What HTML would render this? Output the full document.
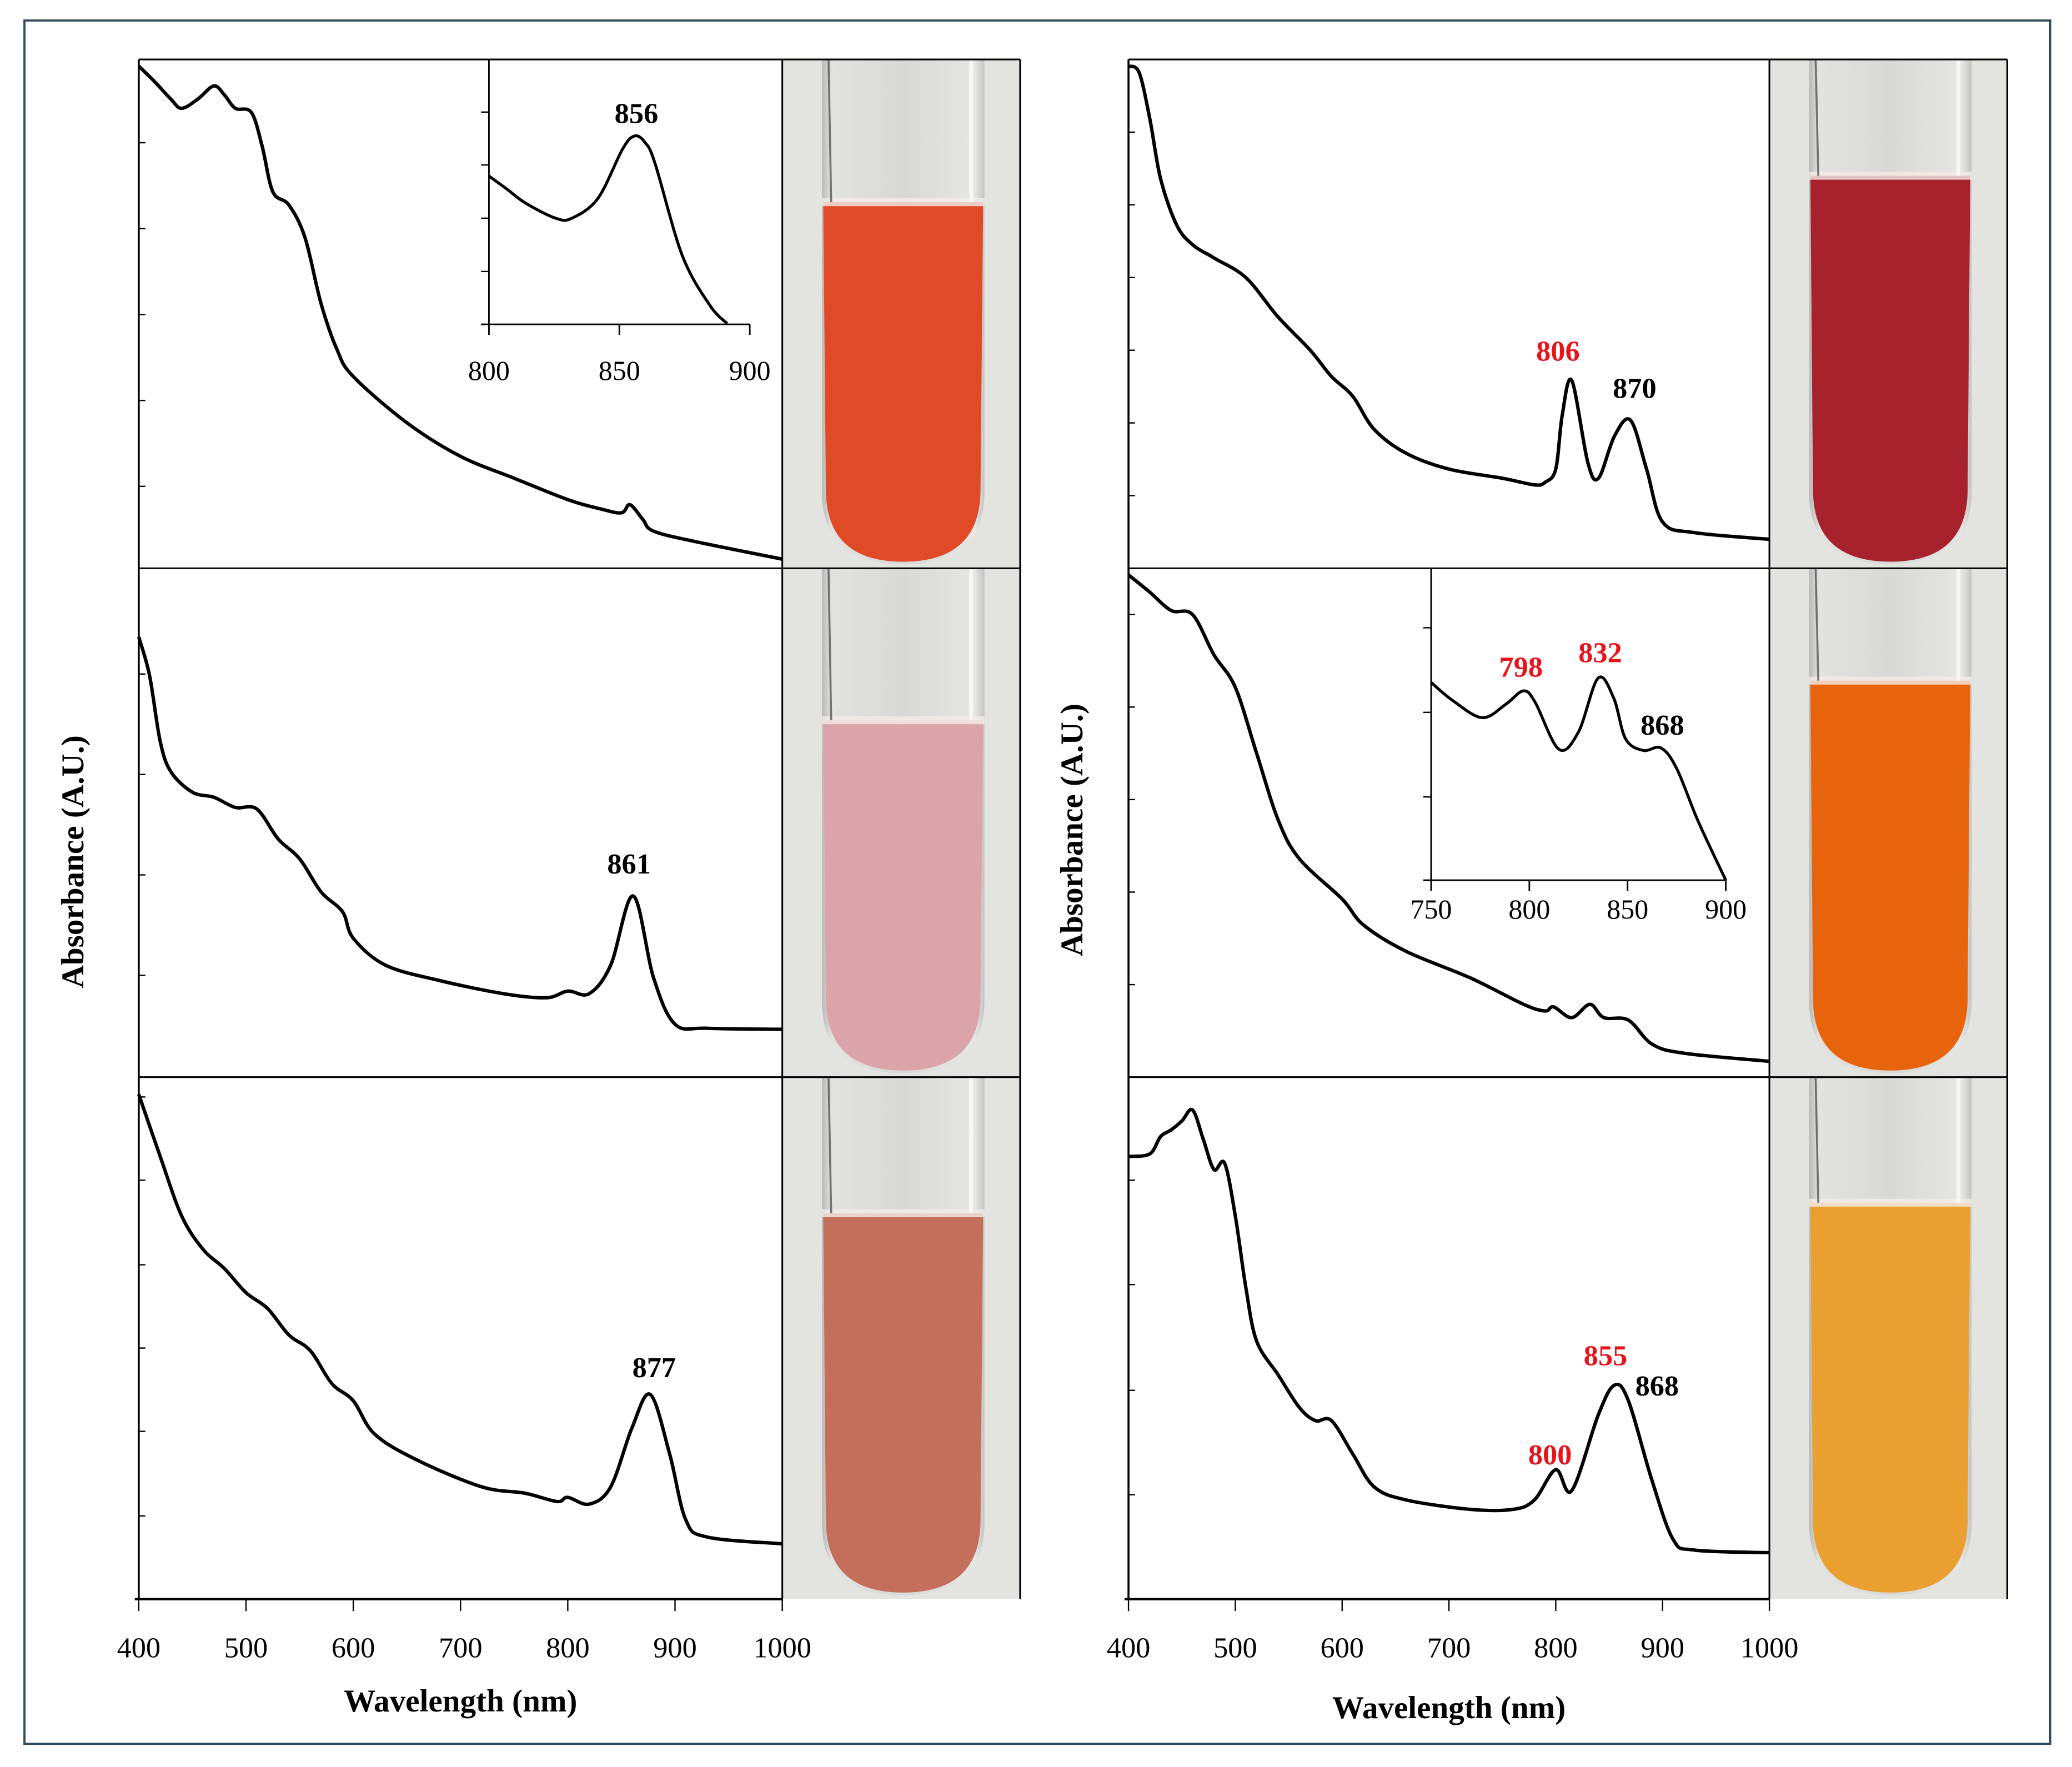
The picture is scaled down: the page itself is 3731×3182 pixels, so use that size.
<!DOCTYPE html>
<html><head><meta charset="utf-8"><style>
html,body{margin:0;padding:0;background:#fff}
svg{display:block}
text{font-family:"Liberation Serif",serif}
</style></head><body>
<svg id="fig" width="3731" height="3182" viewBox="0 0 1568 1337" preserveAspectRatio="none" xmlns="http://www.w3.org/2000/svg">
<defs>
<linearGradient id="glass" x1="0" x2="1" y1="0" y2="0">
<stop offset="0" stop-color="#b8b8b6"/><stop offset="0.06" stop-color="#e2e2e0"/><stop offset="0.5" stop-color="#d8d8d6"/><stop offset="0.94" stop-color="#e6e6e4"/><stop offset="1" stop-color="#c4c4c2"/>
</linearGradient>
</defs>
<rect x="0" y="0" width="1568" height="1337" fill="#fff"/>
<rect x="18.5" y="15.5" width="1533" height="1304" fill="none" stroke="#2e4a5a" stroke-width="1.6"/>
<g id="root"></g>
</svg>
<script>
// ---- data ----
const wl1=[400,415,430,440,455,470,480,490,505,515,525,540,555,570,585,600,650,700,750,800,830,850,858,870,880,920,1000];
const ab1=[98.7,95.6,92.2,90.4,92.2,94.8,93,90.4,89.6,83,74,71.4,65,52,42.9,37.7,28.6,22,17.7,13.5,11.7,10.9,12.5,9.6,7.3,5.2,1.8];
const wl2=[400,410,420,430,450,470,490,510,530,550,570,590,600,630,680,740,780,800,820,840,861,880,900,930,1000];
const ab2=[86.5,79,66,60,56,55,53,52.7,46.8,42.9,36.4,32.5,27.3,22,19,16.4,15.6,16.9,16.4,22,35.6,19.5,10.4,9.6,9.4];
const wl3=[400,420,440,460,480,500,520,540,560,580,600,620,660,720,760,790,800,820,840,860,877,895,910,930,1000];
const ab3=[96.7,84.8,73.4,67,63.3,58.7,55.7,50.6,47.6,41.3,38,31.6,26.6,21.5,20.3,18.7,19.5,18.2,21.5,32.9,39.2,27.8,15.2,11.9,10.6];
const wl4=[400,410,420,430,445,460,480,510,540,570,590,610,630,660,700,750,780,790,800,806,815,830,840,855,870,885,900,930,1000];
const ab4=[98.7,97.4,88.3,76.6,67.5,63.6,61,57.1,49.4,42.9,37.7,33.8,27.3,22.6,19.5,17.7,16.4,16.9,19.5,30,36.9,20.8,17.7,26,29.1,19.5,9.1,7,5.7];
const wl5=[400,420,440,460,480,500,520,540,560,600,620,660,720,770,790,798,815,832,845,868,890,920,1000];
const ab5=[98.7,95.3,91.7,90.9,83,76.6,63.6,50.6,42.9,35,29.9,24.7,19.5,14.3,13,13.8,11.7,14.3,11.7,11.2,6.5,4.7,3.1];
const wl6=[400,420,430,440,450,460,470,480,490,500,510,520,540,560,575,590,610,630,660,720,760,780,800,815,840,855,868,890,910,930,1000];
const ab6=[84.8,85.3,88.6,89.9,91.6,93.7,88.1,82.3,83.5,73.4,59.5,49.4,43,36.7,34.2,34.2,27.8,21.5,19,17.2,17.2,19,24.8,20.8,35.4,41,38,22.8,11.4,9.4,8.9];
const wlIn1=[800,806.6,814.2,825.6,831.8,841.8,851.3,855.9,859.9,863.7,874.1,884.6,891.3];
const abIn1=[55.9,51.2,45.6,40,40,47.5,66.2,71,68.5,60.6,26,7.3,0.3];
const wlIn2=[750,761,776,788,797,803,815,825,835,843,849,858,867,875,886,900];
const abIn2=[63.4,57.6,52.1,56.4,60.7,57,42,47.5,64.8,58.3,45.3,41.6,42.4,35.8,18.8,0];
const xTicks=[400,500,600,700,800,900,1000];
const in1Ticks=[800,850,900];
const in2Ticks=[750,800,850,900];
// ---- helpers ----
const NS='http://www.w3.org/2000/svg';
const root=document.getElementById('root');
function mk(tag,attrs,parent){const e=document.createElementNS(NS,tag);for(const k in attrs)e.setAttribute(k,attrs[k]);(parent||root).appendChild(e);return e;}
function smooth(pts){let d='M'+pts[0][0].toFixed(2)+','+pts[0][1].toFixed(2);
 for(let i=0;i<pts.length-1;i++){const p0=pts[Math.max(0,i-1)],p1=pts[i],p2=pts[i+1],p3=pts[Math.min(pts.length-1,i+2)];
  const c1=[p1[0]+(p2[0]-p0[0])/6,p1[1]+(p2[1]-p0[1])/6],c2=[p2[0]-(p3[0]-p1[0])/6,p2[1]-(p3[1]-p1[1])/6];
  d+='C'+c1[0].toFixed(2)+','+c1[1].toFixed(2)+' '+c2[0].toFixed(2)+','+c2[1].toFixed(2)+' '+p2[0].toFixed(2)+','+p2[1].toFixed(2);}
 return d;}
function txt(x,y,s,size,opts,name){const t=mk('text',Object.assign({x:x,y:y,'font-size':size,'text-anchor':'middle'},opts||{}));t.textContent=s;
 
 
 return t;}
function line(x1,y1,x2,y2,w,name){const l=mk('line',{x1:x1,y1:y1,x2:x2,y2:y2,stroke:'#000','stroke-width':w||1.3});
 
 
 return l;}
function panel(x0,x1,top,bot,wl,ab,name,yticks){
 const sx=w=>x0+(w-400)*(x1-x0)/600, sy=v=>bot-v*(bot-top)/100;
 const g=mk('g',{});
 
 
 yticks.forEach(t=>{const l=mk('line',{x1:x0,x2:x0+5,y1:t,y2:t,stroke:'#000','stroke-width':1},g);
  
  });
 const p=mk('path',{d:smooth(wl.map((w,i)=>[sx(w),sy(ab[i])])),fill:'none',stroke:'#000','stroke-width':2.6,'stroke-linejoin':'round'},g);
 
 
 return {sx,sy};}
function inset(x0,x1,w0,w1,top,bot,wl,ab,ticks,yt,labOff,name){
 const sx=w=>x0+(w-w0)*(x1-x0)/(w1-w0), sy=v=>bot-v*(bot-top)/100;
 line(x0,top,x0,bot,1.2,name+'-y-axis');line(x0-6,bot,x1,bot,1.2,name+'-x-axis');
 ticks.forEach(t=>{line(sx(t),bot,sx(t),bot+8,1.2,name+'-x-tick');txt(sx(t),bot+labOff,String(t),21,{},name+'-x-label');});
 yt.forEach(t=>line(x0-6,t,x0,t,1,name+'-y-tick'));
 const p=mk('path',{d:smooth(wl.map((w,i)=>[sx(w),sy(ab[i])])),fill:'none',stroke:'#000','stroke-width':2.2});
 
 }
function tube(x,top,bot,color,liqTop,name){
 const g=mk('g',{});
 
 
 mk('rect',{x:x,y:top,width:180,height:bot-top,fill:'#e3e3df'},g);
 const l=x+30,r=x+153,rad=58;
 mk('path',{d:`M${l},${top} L${l},${bot-rad} Q${l},${bot-3} ${(l+r)/2},${bot-3} Q${r},${bot-3} ${r},${bot-rad} L${r},${top} Z`,fill:'url(#glass)'},g);
 mk('path',{d:`M${l+1},${liqTop} L${l+3},${bot-rad} Q${l+4},${bot-5} ${(l+r)/2},${bot-5} Q${r-4},${bot-5} ${r-3},${bot-rad} L${r-1},${liqTop} Z`,fill:color},g);
 mk('rect',{x:l,y:liqTop-3,width:r-l,height:6,fill:'#f2ece8',opacity:0.8},g);
 mk('line',{x1:l+5,y1:top,x2:l+7,y2:liqTop,stroke:'#444','stroke-width':1.5,opacity:0.7},g);
 mk('line',{x1:r-10,y1:top,x2:r-10,y2:liqTop,stroke:'#f6f6f6','stroke-width':3},g);
}
// ---- tubes ----
tube(592,45,430,'#e04a26',153,'tube-1');
tube(592,430,815,'#dba4aa',545,'tube-2');
tube(592,815,1210,'#c46f5c',918,'tube-3');
tube(1339,45,430,'#a8222e',133,'tube-4');
tube(1339,430,815,'#e8640c',515,'tube-5');
tube(1339,815,1210,'#e9a030',910,'tube-6');
// ---- frames ----
[[105,772],[854,1519]].forEach(([a,b],k)=>{
 line(a,45,b,45,1.3,'frame-top');line(b,45,b,1210,1.3,'frame-right');
 line(a,430,b,430,1.3,'row-divider');line(a,815,b,815,1.3,'row-divider');
 line(b-180,45,b-180,1210,1.3,'photo-divider');
 line(a,45,a,1210,1.5,'y-axis');line(a-3,1210,b-180,1210,1.8,'x-axis');
 xTicks.forEach(t=>{const xx=a+(t-400)*(b-180-a)/600;line(xx,1210,xx,1219,1,'x-tick');
  txt(xx,1254,String(t),22,{},'x-tick-label');});
 txt((a+b-180)/2,k?1300:1295,'Wavelength (nm)',24,{'font-weight':'bold'},'x-axis-title');
});
// ---- spectra ----
panel(105,592,45,430,wl1,ab1,'panel-a',[108,173,238,303,368]);
panel(105,592,430,815,wl2,ab2,'panel-b',[510,586,662,738]);
panel(105,592,815,1210,wl3,ab3,'panel-c',[830,893,957,1020,1083,1147]);
panel(854,1339,45,430,wl4,ab4,'panel-d',[100,155,210,265,320,375]);
panel(854,1339,430,815,wl5,ab5,'panel-e',[465,535,605,675,745]);
panel(854,1339,815,1210,wl6,ab6,'panel-f',[893,972,1052,1131]);
inset(370,567.4,800,900,44.7,245.4,wlIn1,abIn1,in1Ticks,[84.8,124.8,165.1,205.4],42,'inset-a');
inset(1083,1306,750,900,430,666,wlIn2,abIn2,in2Ticks,[475,539,603],29,'inset-e');
// ---- labels ----
const B={'font-weight':'bold'};
txt(481.6,93,'856',22,B,'peak-856');
txt(476,661,'861',22,B,'peak-861');
txt(495,1042,'877',22,B,'peak-877');
txt(1179,273,'806',22,{'font-weight':'bold',fill:'#e8141c'},'peak-806');
txt(1237,301,'870',22,B,'peak-870');
txt(1151,512,'798',22,{'font-weight':'bold',fill:'#e8141c'},'peak-798');
txt(1211,501,'832',22,{'font-weight':'bold',fill:'#e8141c'},'peak-832');
txt(1258,556,'868',22,B,'peak-868-inset');
txt(1215,1033,'855',22,{'font-weight':'bold',fill:'#e8141c'},'peak-855');
txt(1254,1056,'868',22,B,'peak-868');
txt(1173,1108,'800',22,{'font-weight':'bold',fill:'#e8141c'},'peak-800');
txt(0,0,'Absorbance (A.U.)',24,{'font-weight':'bold',transform:'translate(63,652) rotate(-90)'},'y-axis-title-left');
txt(0,0,'Absorbance (A.U.)',24,{'font-weight':'bold',transform:'translate(819,628) rotate(-90)'},'y-axis-title-right');
</script>
</body></html>
